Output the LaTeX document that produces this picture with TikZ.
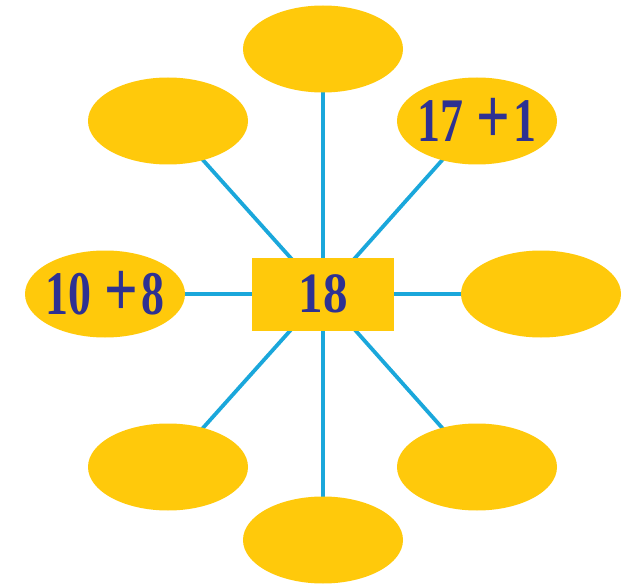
\documentclass[tikz,border=0pt]{standalone}
\usepackage{fontspec}
\usetikzlibrary{shapes.geometric,backgrounds}
\newfontfamily\numfont[FakeStretch=0.74]{Liberation Serif}
\newfontfamily\hubfont[FakeStretch=0.86]{Liberation Serif}
\newcommand\bigplus{{\fontsize{80}{80}\selectfont\raisebox{-2pt}{+}}}
\definecolor{petal}{HTML}{FFC90B}
\definecolor{spoke}{HTML}{1AA7DB}
\definecolor{ink}{HTML}{2E3192}
\tikzset{
  petalnode/.style={ellipse, fill=petal, draw=none, minimum width=160pt, minimum height=87pt,
    inner xsep=-20pt, inner ysep=0pt,
    text=ink, font=\numfont\bfseries\fontsize{62}{62}\selectfont},
  hubnode/.style={rectangle, fill=petal, draw=none, minimum width=142pt, minimum height=73pt, inner sep=0pt,
    text=ink, font=\hubfont\bfseries\fontsize{57}{57}\selectfont},
  spokeline/.style={draw=spoke, line width=3.8pt}
}
\begin{document}
\begin{tikzpicture}[x=1pt,y=-1pt]
\useasboundingbox (0,0) rectangle (633,586);
\node[hubnode] (hub) at (323,294) {18};
\node[petalnode] (top) at (323,49) {};
\node[petalnode] (tl) at (168,121) {};
\node[petalnode] (tr) at (477,121) {17\hspace{13pt}\bigplus\hspace{3pt}1};
\node[petalnode] (left) at (105,294) {10\hspace{13pt}\bigplus\hspace{3pt}8};
\node[petalnode] (right) at (541,294) {};
\node[petalnode] (bl) at (168,467) {};
\node[petalnode] (br) at (477,467) {};
\node[petalnode] (bot) at (323,540) {};
\begin{scope}[on background layer]
\foreach \n in {top,tl,tr,left,right,bl,br,bot}
  \draw[spokeline] (hub.center) -- (\n.center);
\end{scope}
\end{tikzpicture}
\end{document}
